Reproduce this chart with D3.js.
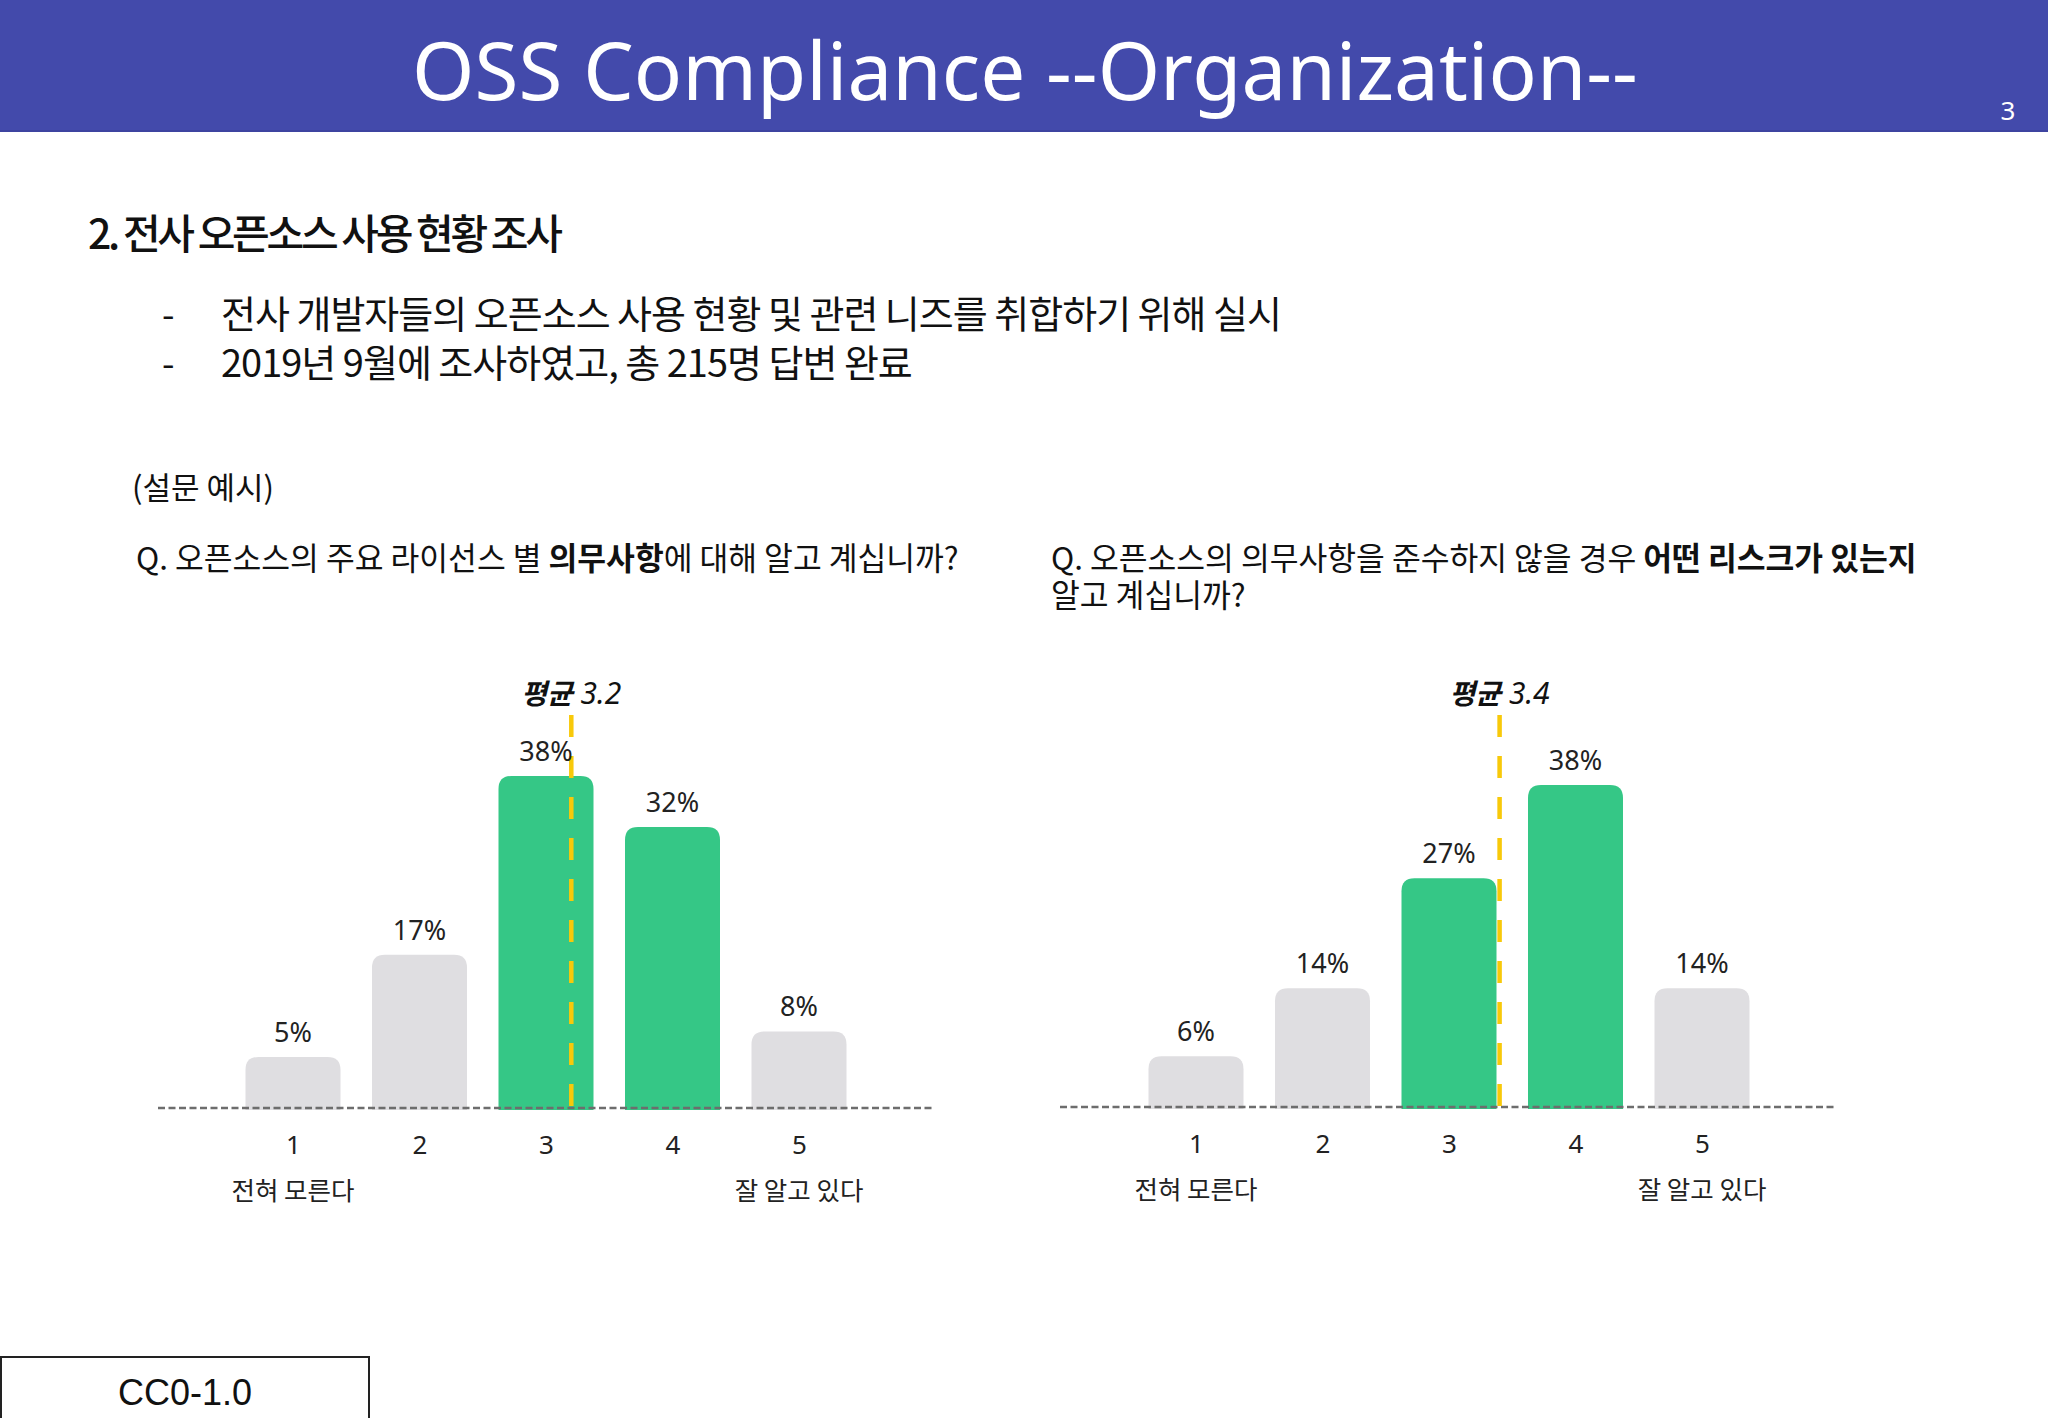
<!DOCTYPE html>
<html>
<head>
<meta charset="utf-8">
<script src="https://cdn.jsdelivr.net/npm/d3@7"></script>
<style>
  html, body { margin: 0; padding: 0; background: #fff; }
  svg { display: block; }
</style>
</head>
<body>
<svg id="chart" width="2048" height="1418"></svg>
<script>
// ---------- data ----------
const categories = [1, 2, 3, 4, 5];
const endLabels = ["전혀 모른다", "", "", "", "잘 알고 있다"];
const highlighted = [3, 4];
const q1Values = [5, 17, 38, 32, 8];
const q2Values = [6, 14, 27, 38, 14];
const q1Mean = 3.2;
const q2Mean = 3.4;
const q1Text = [["Q. 오픈소스의 주요 라이선스 별 ", false], ["의무사항", true], ["에 대해 알고 계십니까?", false]];
const q2Line1 = [["Q. 오픈소스의 의무사항을 준수하지 않을 경우 ", false], ["어떤 리스크가 있는지", true]];
const q2Line2 = "알고 계십니까?";
const pageTitle = "OSS Compliance --Organization--";
const sectionTitle = "2. 전사 오픈소스 사용 현황 조사";
const bullets = ["전사 개발자들의 오픈소스 사용 현황 및 관련 니즈를 취합하기 위해 실시",
                 "2019년 9월에 조사하였고, 총 215명 답변 완료"];

// ---------- drawing ----------
const svg = d3.select("#chart");
const KR = "'Noto Sans CJK KR', 'Noto Sans', sans-serif";
const GREEN = "#35C786", GRAY = "#DFDEE1", YELLOW = "#F8C90A";

// header band
svg.append("rect").attr("x", 0).attr("y", 0).attr("width", 2048).attr("height", 132).attr("fill", "#434AAB");
svg.append("rect").attr("x", 0).attr("y", 130).attr("width", 2048).attr("height", 2).attr("fill", "#3E44A0");
svg.append("text").attr("x", 1025).attr("y", 100).attr("text-anchor", "middle")
  .attr("font-family", "'Noto Sans', sans-serif").attr("font-size", 80).attr("fill", "#fff")
  .text(pageTitle);
svg.append("text").attr("x", 2008).attr("y", 120).attr("text-anchor", "middle")
  .attr("font-family", "'Noto Sans', sans-serif").attr("font-size", 26).attr("fill", "#fff").text("3");

// section title + bullets
svg.append("text").attr("x", 88).attr("y", 249)
  .attr("font-family", KR).attr("font-size", 41).attr("font-weight", 500)
  .attr("letter-spacing", -3.3).attr("fill", "#111").text(sectionTitle);
bullets.forEach((b, i) => {
  const y = 328 + i * 49;
  svg.append("text").attr("x", 162).attr("y", y).attr("font-family", KR).attr("font-size", 36).attr("fill", "#111").text("-");
  svg.append("text").attr("x", 221).attr("y", y).attr("font-family", KR).attr("font-size", 38)
    .attr("letter-spacing", -1).attr("fill", "#111").text(b);
});

svg.append("text").attr("x", 132).attr("y", 499).attr("font-family", KR).attr("font-size", 31)
  .attr("fill", "#111").text("(설문 예시)");

function richText(x, y, parts) {
  const t = svg.append("text").attr("x", x).attr("y", y).attr("font-family", KR)
    .attr("font-size", 31.3).attr("fill", "#111");
  parts.forEach(([s, bold]) => t.append("tspan").attr("font-weight", bold ? 700 : 400).text(s));
}
richText(136, 570, q1Text);
richText(1051, 570, q2Line1);
richText(1051, 607, [[q2Line2, false]]);

// ---------- bar charts ----------
function roundedTopBar(x, y, w, h, r) {
  r = Math.min(r, h, w / 2);
  return `M${x},${y + h}V${y + r}Q${x},${y} ${x + r},${y}H${x + w - r}Q${x + w},${y} ${x + w},${y + r}V${y + h}Z`;
}

function drawChart(cfg) {
  const g = svg.append("g");
  const x = d3.scaleLinear().domain([1, 5]).range([cfg.x0, cfg.x1]);
  const y = d3.scaleLinear().domain([cfg.yMin, 38]).range([cfg.base, cfg.base - cfg.h38]);
  const bw = 95;

  // bars
  g.selectAll("path.bar").data(cfg.values).join("path")
    .attr("class", "bar")
    .attr("d", (v, i) => roundedTopBar(x(categories[i]) - bw / 2, y(v), bw, cfg.base - y(v) + 2, 13))
    .attr("fill", (v, i) => highlighted.includes(categories[i]) ? GREEN : GRAY);

  // baseline
  g.append("line").attr("x1", cfg.lineX0).attr("x2", cfg.lineX1)
    .attr("y1", cfg.base).attr("y2", cfg.base)
    .attr("stroke", "#6d6d6d").attr("stroke-width", 2.5).attr("stroke-dasharray", "7,3.5");

  // mean line
  g.append("line").attr("x1", x(cfg.mean)).attr("x2", x(cfg.mean))
    .attr("y1", 715).attr("y2", cfg.base + 3)
    .attr("stroke", YELLOW).attr("stroke-width", 4.5).attr("stroke-dasharray", "22,19");
  const mt = g.append("text").attr("x", x(cfg.mean)).attr("y", 704).attr("text-anchor", "middle")
    .attr("font-family", KR).attr("font-size", 28).attr("font-style", "italic")
    .attr("fill", "#111");
  mt.append("tspan").attr("font-weight", 700).text("평균");
  mt.append("tspan").attr("font-weight", 400).attr("font-family", "'Noto Sans', sans-serif").attr("font-size", 30)
    .text(" " + cfg.mean.toFixed(1));

  // value labels
  g.selectAll("text.val").data(cfg.values).join("text")
    .attr("class", "val")
    .attr("x", (v, i) => x(categories[i]))
    .attr("y", v => y(v) - 15)
    .attr("text-anchor", "middle").attr("font-family", "'Noto Sans', sans-serif")
    .attr("font-size", 27).attr("fill", "#222")
    .text(v => v + "%");

  // category axis
  const axis = d3.axisBottom(x).tickValues(categories).tickFormat(d3.format("d")).tickSize(0).tickPadding(0);
  const ag = g.append("g").attr("transform", `translate(0,${cfg.base + 46})`).call(axis);
  ag.select(".domain").remove();
  ag.selectAll("text").attr("font-family", "'Noto Sans', sans-serif").attr("font-size", 26)
    .attr("fill", "#222").attr("dy", 0);

  g.selectAll("text.end").data(endLabels).join("text")
    .attr("class", "end")
    .attr("x", (d, i) => x(categories[i]))
    .attr("y", cfg.base + 92)
    .attr("text-anchor", "middle").attr("font-family", KR).attr("font-size", 25.5).attr("fill", "#222")
    .text(d => d);
}

drawChart({ values: q1Values, mean: q1Mean, x0: 293, x1: 799, base: 1108, yMin: -1, h38: 332, lineX0: 158, lineX1: 933 });
drawChart({ values: q2Values, mean: q2Mean, x0: 1196, x1: 1702, base: 1107, yMin: 0, h38: 322, lineX0: 1060, lineX1: 1835 });

// license box
svg.append("rect").attr("x", 1).attr("y", 1357).attr("width", 368).attr("height", 70)
  .attr("fill", "#fff").attr("stroke", "#222").attr("stroke-width", 2);
svg.append("text").attr("x", 185).attr("y", 1405).attr("text-anchor", "middle")
  .attr("font-family", "'Liberation Sans', Arial, sans-serif").attr("font-size", 36).attr("fill", "#111")
  .text("CC0-1.0");
</script>
</body>
</html>
